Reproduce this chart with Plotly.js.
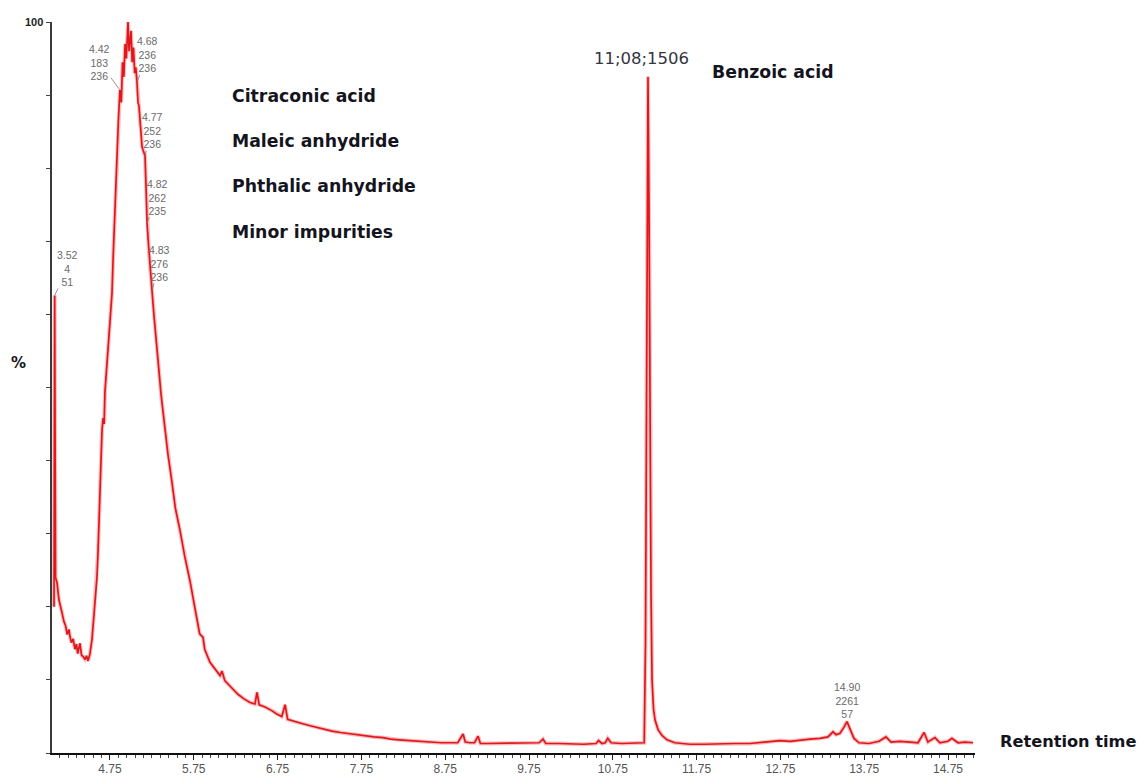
<!DOCTYPE html>
<html>
<head>
<meta charset="utf-8">
<script src="https://cdn.plot.ly/plotly-3.0.1.min.js"></script>
<style>
  html, body { margin: 0; padding: 0; background: #ffffff; }
  #chart { width: 1144px; height: 776px; }
</style>
</head>
<body>
<div id="chart"></div>
<script>
// Total ion chromatogram: retention time (min) vs relative intensity (%)
const retentionTime = [
  4.082, 4.090, 4.100, 4.118, 4.140, 4.160, 4.177, 4.200, 4.220, 4.240,
  4.260, 4.273, 4.290, 4.310, 4.332, 4.350, 4.365, 4.380, 4.392, 4.410,
  4.430, 4.452, 4.470, 4.488, 4.510, 4.535, 4.555, 4.571, 4.595, 4.607,
  4.620, 4.635, 4.655, 4.668, 4.680, 4.690, 4.710, 4.730, 4.750, 4.774,
  4.790, 4.810, 4.830, 4.850, 4.869, 4.885, 4.900, 4.915, 4.930, 4.945,
  4.965, 4.978, 4.990, 5.001, 5.015, 5.030, 5.045, 5.058, 5.072, 5.084,
  5.096, 5.110, 5.120, 5.132, 5.144, 5.156, 5.168, 5.180, 5.192, 5.210,
  5.227, 5.251, 5.275, 5.300, 5.330, 5.360, 5.400, 5.440, 5.490, 5.530,
  5.585, 5.640, 5.705, 5.760, 5.820, 5.860, 5.880, 5.943, 6.000, 6.063,
  6.087, 6.120, 6.170, 6.218, 6.280, 6.350, 6.421, 6.480, 6.504, 6.530,
  6.600, 6.680, 6.743, 6.800, 6.839, 6.870, 6.950, 7.050, 7.150, 7.220,
  7.300, 7.400, 7.500, 7.614, 7.700, 7.800, 7.900, 8.008, 8.100, 8.200,
  8.300, 8.414, 8.550, 8.700, 8.807, 8.900, 8.963, 8.990, 9.046, 9.100,
  9.142, 9.170, 9.250, 9.400, 9.550, 9.700, 9.798, 9.870, 9.917, 9.950,
  10.100, 10.250, 10.400, 10.550, 10.580, 10.620, 10.660, 10.690, 10.730, 10.850,
  11.000, 11.100, 11.125, 11.140, 11.158, 11.170, 11.182, 11.194, 11.206, 11.218,
  11.236, 11.254, 11.290, 11.337, 11.397, 11.490, 11.671, 11.850, 12.029, 12.200,
  12.387, 12.500, 12.626, 12.745, 12.865, 12.984, 13.103, 13.223, 13.318, 13.378,
  13.414, 13.461, 13.508, 13.544, 13.581, 13.628, 13.688, 13.807, 13.927, 14.010,
  14.070, 14.177, 14.297, 14.392, 14.464, 14.510, 14.594, 14.654, 14.749, 14.797,
  14.869, 14.953, 15.048
];
const intensity = [
  20.0, 62.6, 24.0, 23.3, 21.0, 20.2, 19.2, 18.0, 17.4, 16.2,
  16.9, 15.9, 15.1, 15.6, 14.2, 14.9, 13.6, 14.4, 15.0, 13.4,
  13.2, 12.8, 13.3, 12.6, 13.5, 15.5, 18.5, 21.0, 24.1, 27.5,
  32.0, 38.5, 44.2, 45.8, 45.0, 49.4, 53.0, 56.0, 59.2, 62.9,
  68.5, 75.0, 81.5, 86.5, 90.7, 89.0, 94.5, 92.5, 97.0, 95.0,
  100.0, 96.0, 97.5, 98.8, 94.5, 96.5, 93.0, 93.8, 91.8, 89.0,
  88.5, 86.0, 85.5, 83.0, 82.5, 82.0, 81.7, 77.5, 72.5, 69.5,
  66.5, 63.3, 59.8, 56.5, 52.5, 49.0, 45.0, 41.0, 37.0, 33.5,
  30.5, 27.0, 23.5, 20.0, 16.3, 15.8, 14.2, 12.4, 11.6, 10.6,
  11.2, 9.9, 9.3, 8.7, 8.0, 7.4, 6.9, 6.7, 8.3, 6.6,
  6.3, 5.8, 5.3, 5.0, 6.6, 4.6, 4.3, 4.0, 3.7, 3.5,
  3.2, 3.0, 2.8, 2.6, 2.5, 2.3, 2.2, 2.1, 1.9, 1.8,
  1.7, 1.6, 1.5, 1.4, 1.4, 1.4, 2.6, 1.5, 1.4, 1.4,
  2.3, 1.3, 1.3, 1.3, 1.3, 1.4, 1.3, 1.4, 1.9, 1.3,
  1.3, 1.2, 1.2, 1.3, 1.7, 1.3, 1.4, 2.0, 1.4, 1.3,
  1.3, 1.3, 1.4, 15.0, 60.0, 92.5, 75.0, 45.0, 22.0, 10.0,
  6.0, 4.5, 3.2, 2.4, 1.8, 1.4, 1.2, 1.2, 1.3, 1.3,
  1.3, 1.4, 1.5, 1.7, 1.6, 1.8, 1.9, 2.0, 2.2, 2.9,
  2.5, 2.7, 3.5, 4.3, 3.2, 2.0, 1.4, 1.3, 1.6, 2.2,
  1.5, 1.6, 1.5, 1.4, 2.8, 1.5, 2.1, 1.4, 1.6, 2.0,
  1.4, 1.5, 1.4
];

// Peak labels: retention time, intensity at the leader tip, text, text offset (px)
const peakLabelText = ['3.52<br>4<br>51', '4.42<br>183<br>236', '4.68<br>236<br>236',
                       '4.77<br>252<br>236', '4.82<br>262<br>235', '4.83<br>276<br>236'];
const peakLabelTime = [4.090, 4.869, 5.072, 5.168, 5.192, 5.251];
const peakLabelLevel = [62.6, 90.7, 91.8, 81.7, 72.5, 63.3];
const peakLabelDx = [13, -20, 11, 7, 10, 8];
const peakLabelDy = [-27, -27, -27, -25, -26, -27];

// Compound names
const compounds = ['Citraconic acid', 'Maleic anhydride', 'Phthalic anhydride', 'Minor impurities'];

// Axis ticks
const xTickValues = [4.75, 5.75, 6.75, 7.75, 8.75, 9.75, 10.75, 11.75, 12.75, 13.75, 14.75];
const xTickLabels = ['4.75', '5.75', '6.75', '7.75', '8.75', '9.75', '10.75', '11.75', '12.75', '13.75', '14.75'];
const yTickValues = [0, 10, 20, 30, 40, 50, 60, 70, 80, 90, 100];
const yTickLabels = ['', '', '', '', '', '', '', '', '', '', '100'];

const traceHalo = {
  x: retentionTime, y: intensity, type: 'scatter', mode: 'lines',
  line: { color: 'rgba(240,140,140,0.55)', width: 4 },
  hoverinfo: 'skip', showlegend: false
};
const traceMain = {
  x: retentionTime, y: intensity, type: 'scatter', mode: 'lines',
  line: { color: '#e3161c', width: 1.7 },
  showlegend: false
};

const smallFont = { family: 'Liberation Sans, Arial, sans-serif', size: 10.5, color: '#6a6a6a' };
const boldFont = { family: 'DejaVu Sans, sans-serif', size: 17.3, color: '#141420', weight: 'bold' };

const annotations = [];
for (let i = 0; i < peakLabelText.length; i++) {
  annotations.push({
    x: peakLabelTime[i], y: peakLabelLevel[i], xref: 'x', yref: 'y',
    text: peakLabelText[i], showarrow: true, arrowhead: 0, arrowwidth: 0.8,
    arrowcolor: '#777', ax: peakLabelDx[i], ay: peakLabelDy[i],
    font: smallFont, align: 'center', borderpad: 0, standoff: 0
  });
}
const compoundY = [96, 141, 186, 232];
for (let i = 0; i < compounds.length; i++) {
  annotations.push({
    xref: 'paper', yref: 'paper', x: (230 - 52) / 923, y: (753 - compoundY[i]) / 731,
    xanchor: 'left', yanchor: 'middle', showarrow: false,
    text: '<b>' + compounds[i] + '</b>', font: boldFont
  });
}
annotations.push({
  xref: 'paper', yref: 'paper', x: (710 - 52) / 923, y: (753 - 72) / 731,
  xanchor: 'left', yanchor: 'middle', showarrow: false,
  text: '<b>Benzoic acid</b>', font: boldFont
});
annotations.push({
  xref: 'paper', yref: 'paper', x: (641 - 52) / 923, y: (753 - 58) / 731,
  xanchor: 'center', yanchor: 'middle', showarrow: false,
  text: '11;08;1506', font: { family: 'DejaVu Sans, sans-serif', size: 16.5, color: '#34343f' }
});
annotations.push({
  xref: 'paper', yref: 'paper', x: (847 - 52) / 923, y: (753 - 700) / 731,
  xanchor: 'center', yanchor: 'middle', showarrow: false,
  text: '14.90<br>2261<br>57', font: smallFont, align: 'center'
});
annotations.push({
  xref: 'paper', yref: 'paper', x: (18 - 52) / 923, y: (753 - 363) / 731,
  xanchor: 'center', yanchor: 'middle', showarrow: false,
  text: '<b>%</b>', font: { family: 'DejaVu Sans, sans-serif', size: 15, color: '#141420' }
});
annotations.push({
  xref: 'paper', yref: 'paper', x: (998 - 52) / 923, y: (753 - 741) / 731,
  xanchor: 'left', yanchor: 'middle', showarrow: false,
  text: '<b>Retention time</b>', font: { family: 'DejaVu Sans, sans-serif', size: 16.2, color: '#141420' }
});

const layout = {
  width: 1144, height: 776,
  margin: { l: 52, r: 169, t: 22, b: 23, pad: 0 },
  paper_bgcolor: '#ffffff', plot_bgcolor: '#ffffff',
  showlegend: false,
  xaxis: {
    range: [4.058, 15.072], showgrid: false, zeroline: false,
    showline: true, linecolor: '#111', linewidth: 2,
    tickmode: 'array', tickvals: xTickValues, ticktext: xTickLabels,
    ticks: 'outside', ticklen: 5, tickwidth: 1, tickcolor: '#222',
    ticklabelstandoff: -1,
    tickfont: { family: 'Liberation Sans, Arial, sans-serif', size: 12, color: '#555' },
    minor: { dtick: 0.1, tick0: 4.75, ticks: 'outside', ticklen: 3, tickcolor: '#444', showgrid: false }
  },
  yaxis: {
    range: [0, 100], showgrid: false, zeroline: false,
    showline: true, linecolor: '#3a3a3a', linewidth: 2.5,
    tickmode: 'array', tickvals: yTickValues, ticktext: yTickLabels,
    ticks: 'outside', ticklen: 4, tickwidth: 1, tickcolor: '#444',
    tickfont: { family: 'Liberation Sans, Arial, sans-serif', size: 11, color: '#222', weight: 'bold' }
  },
  annotations: annotations
};

Plotly.newPlot('chart', [traceHalo, traceMain], layout, { displayModeBar: false, staticPlot: true });
</script>
</body>
</html>
